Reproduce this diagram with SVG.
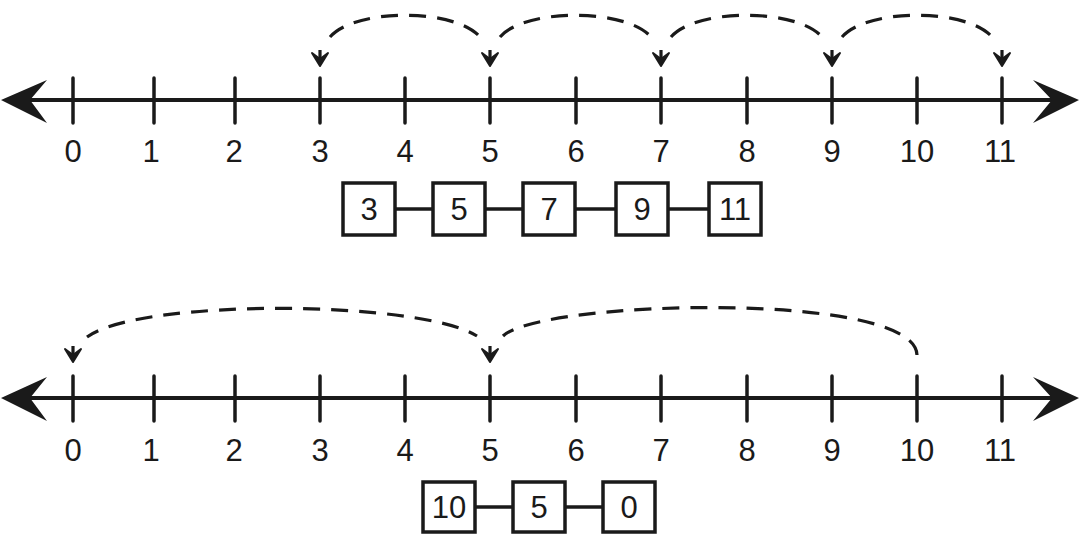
<svg xmlns="http://www.w3.org/2000/svg" width="1080" height="538" viewBox="0 0 1080 538">
<style>
.axis{stroke:#1a1a1a;stroke-width:4;fill:none}
.tick{stroke:#1a1a1a;stroke-width:3.5;stroke-linecap:round}
.head{fill:#1a1a1a;stroke:none}
.lbl{font-family:"Liberation Sans",Arial,sans-serif;font-size:31px;fill:#1a1a1a;text-anchor:middle}
.arc{stroke:#1a1a1a;stroke-width:3.2;fill:none;stroke-dasharray:17 11}
.ahs{stroke:#1a1a1a;stroke-width:3.2;fill:none}
.ah{fill:#1a1a1a;stroke:#1a1a1a;stroke-width:2;stroke-linejoin:round}
.box{fill:#fff;stroke:#1a1a1a;stroke-width:3.5}
.link{stroke:#1a1a1a;stroke-width:3.5}
</style>
<defs>
<path id="arrowhead" d="M0,0 L-8,-13 L0,-7 L8,-13 Z"/>
</defs>
<rect width="1080" height="538" fill="#fff"/>

<!-- top number line -->
<g id="numberline-top">
<line class="axis" x1="30" y1="100" x2="1052" y2="100"/>
<polygon class="head" points="1,100 47,80 30,100 47,123"/>
<polygon class="head" points="1079,100 1033,80 1052,100 1033,123"/>
<g class="tick">
<line x1="73" y1="78" x2="73" y2="123"/><line x1="154" y1="78" x2="154" y2="123"/><line x1="235" y1="78" x2="235" y2="123"/><line x1="320" y1="78" x2="320" y2="123"/><line x1="405" y1="78" x2="405" y2="123"/><line x1="490" y1="78" x2="490" y2="123"/><line x1="576" y1="78" x2="576" y2="123"/><line x1="661" y1="78" x2="661" y2="123"/><line x1="747" y1="78" x2="747" y2="123"/><line x1="832" y1="78" x2="832" y2="123"/><line x1="917" y1="78" x2="917" y2="123"/><line x1="1002" y1="78" x2="1002" y2="123"/>
</g>
<g class="lbl">
<text x="73" y="162">0</text><text x="151" y="162">1</text><text x="234" y="162">2</text><text x="320" y="162">3</text><text x="405" y="162">4</text><text x="490" y="162">5</text><text x="576" y="162">6</text><text x="661" y="162">7</text><text x="747" y="162">8</text><text x="832" y="162">9</text><text x="917" y="162">10</text><text x="1000" y="162">11</text>
</g>
</g>

<!-- bottom number line -->
<g id="numberline-bottom">
<line class="axis" x1="30" y1="398" x2="1052" y2="398"/>
<polygon class="head" points="1,398 47,377 30,398 47,421"/>
<polygon class="head" points="1079,398 1033,377 1052,398 1033,421"/>
<g class="tick">
<line x1="73" y1="376" x2="73" y2="421"/><line x1="154" y1="376" x2="154" y2="421"/><line x1="235" y1="376" x2="235" y2="421"/><line x1="320" y1="376" x2="320" y2="421"/><line x1="405" y1="376" x2="405" y2="421"/><line x1="490" y1="376" x2="490" y2="421"/><line x1="576" y1="376" x2="576" y2="421"/><line x1="661" y1="376" x2="661" y2="421"/><line x1="747" y1="376" x2="747" y2="421"/><line x1="832" y1="376" x2="832" y2="421"/><line x1="917" y1="376" x2="917" y2="421"/><line x1="1002" y1="376" x2="1002" y2="421"/>
</g>
<g class="lbl">
<text x="73" y="461">0</text><text x="151" y="461">1</text><text x="234" y="461">2</text><text x="320" y="461">3</text><text x="405" y="461">4</text><text x="490" y="461">5</text><text x="576" y="461">6</text><text x="661" y="461">7</text><text x="747" y="461">8</text><text x="832" y="461">9</text><text x="917" y="461">10</text><text x="1000" y="461">11</text>
</g>
</g>

<!-- jump arcs -->
<g id="connectors">
<path class="arc" d="M330,37 C355,8 455,8 480,37"/>
<path class="arc" d="M500,37 C525,8 626,8 651,37"/>
<path class="arc" d="M671,37 C696,8 797,8 822,37"/>
<path class="arc" d="M842,37 C867,8 967,8 992,37"/>
<path class="arc" d="M917,355 C915,290 540,300 503,336"/>
<path class="arc" d="M87,337 C140,298 420,300 477,336" style="stroke-dashoffset:4"/>
<g class="ahs">
<path d="M320,50 V60"/><path d="M490,50 V60"/><path d="M661,50 V60"/><path d="M832,50 V60"/><path d="M1002,50 V60"/>
<path d="M73,346 V356"/><path d="M490,346 V356"/>
</g>
<g class="ah">
<use href="#arrowhead" x="320" y="66"/>
<use href="#arrowhead" x="490" y="66"/>
<use href="#arrowhead" x="661" y="66"/>
<use href="#arrowhead" x="832" y="66"/>
<use href="#arrowhead" x="1002" y="66"/>
<use href="#arrowhead" x="73" y="362"/>
<use href="#arrowhead" x="490" y="362"/>
</g>
<g class="link">
<line x1="395" y1="209" x2="433" y2="209"/>
<line x1="485" y1="209" x2="523" y2="209"/>
<line x1="575" y1="209" x2="616" y2="209"/>
<line x1="668" y1="209" x2="709" y2="209"/>
<line x1="475" y1="507" x2="513" y2="507"/>
<line x1="565" y1="507" x2="603" y2="507"/>
</g>
</g>

<!-- sequence boxes top -->
<g id="box-3"><rect class="box" x="343" y="183" width="52" height="52"/><text class="lbl" x="369" y="220">3</text></g>
<g id="box-5"><rect class="box" x="433" y="183" width="52" height="52"/><text class="lbl" x="459" y="220">5</text></g>
<g id="box-7"><rect class="box" x="523" y="183" width="52" height="52"/><text class="lbl" x="549" y="220">7</text></g>
<g id="box-9"><rect class="box" x="616" y="183" width="52" height="52"/><text class="lbl" x="642" y="220">9</text></g>
<g id="box-11"><rect class="box" x="709" y="183" width="52" height="52"/><text class="lbl" x="735" y="220">11</text></g>

<!-- sequence boxes bottom -->
<g id="box-10"><rect class="box" x="423" y="482" width="52" height="50"/><text class="lbl" x="449" y="518">10</text></g>
<g id="box-5b"><rect class="box" x="513" y="482" width="52" height="50"/><text class="lbl" x="539" y="518">5</text></g>
<g id="box-0"><rect class="box" x="603" y="482" width="52" height="50"/><text class="lbl" x="629" y="518">0</text></g>
</svg>
